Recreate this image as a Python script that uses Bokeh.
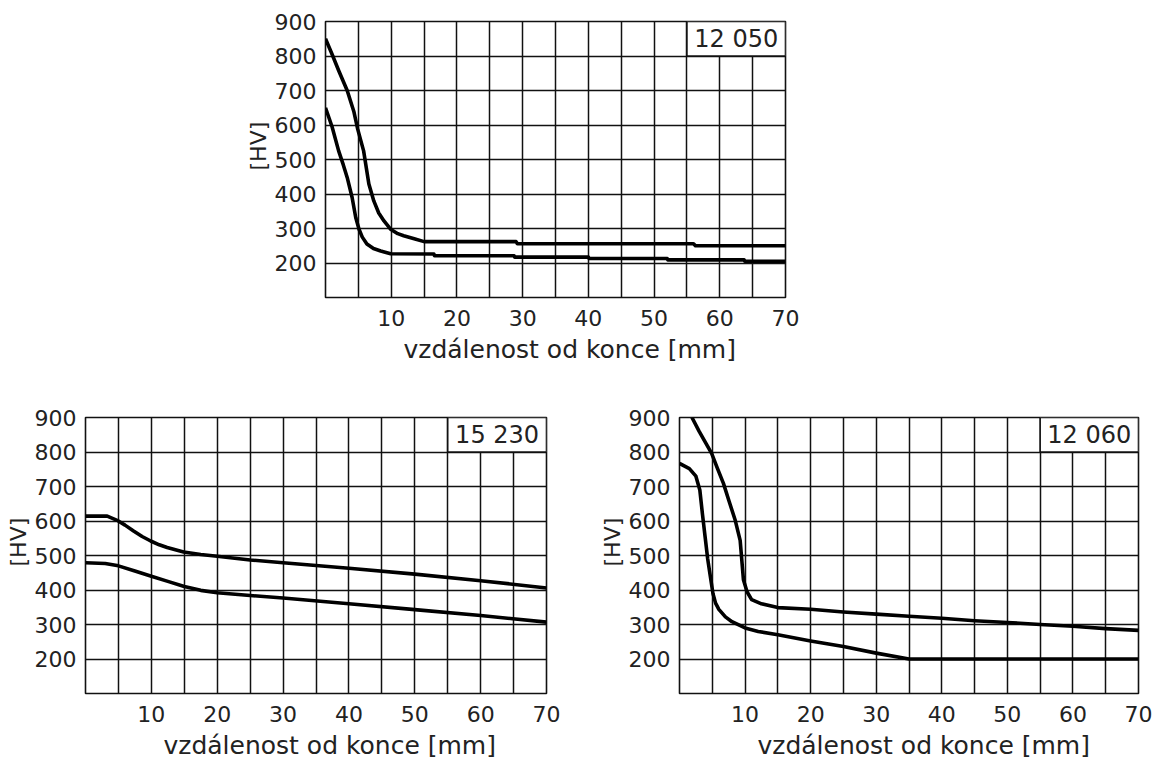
from bokeh.plotting import figure
from bokeh.models import Range1d, FixedTicker, Title
from bokeh.layouts import column, row
from bokeh.embed import file_html
from bokeh.resources import INLINE
from bokeh.core.properties import value

# ---- axes ----
X_TICKS = [10, 20, 30, 40, 50, 60, 70]
Y_TICKS = [200, 300, 400, 500, 600, 700, 800, 900]
X_GRID = [0, 5, 10, 15, 20, 25, 30, 35, 40, 45, 50, 55, 60, 65, 70]
Y_GRID = [100, 200, 300, 400, 500, 600, 700, 800, 900]
X_LABEL = "vzdálenost od konce [mm]"
Y_LABEL = "[HV]"
BOX_X = [55, 70]
BOX_Y = [800, 900]

# ---- chart 12 050 ----
a_upper_x = [0, 1, 2, 3.3, 4.3, 4.9, 5.8, 6.6, 7.35, 8.1, 8.9, 9.9, 11, 11.9, 13.5, 15, 29, 29.2, 56, 56.3, 70]
a_upper_y = [850, 805, 758, 700, 640, 588, 525, 429, 380, 345, 322, 298, 285, 279, 270, 262, 262, 256, 256, 250, 250]
a_lower_x = [0, 1, 2, 2.7, 3.3, 4.05, 4.6, 5.1, 5.6, 6.3, 7.3, 8.4, 9.9, 16.5, 16.6, 28.7, 28.8, 40, 40.1, 52, 52.1, 63.7, 63.8, 70]
a_lower_y = [650, 595, 525, 485, 448, 390, 332, 298, 275, 255, 242, 235, 227, 226, 221, 221, 217, 217, 213, 213, 209, 209, 205, 205]

# ---- chart 15 230 ----
b_upper_x = [0, 3.3, 4.8, 6, 7.3, 8.6, 9.9, 11.2, 12.4, 14.9, 17.5, 20, 25, 30, 40, 50, 60, 70]
b_upper_y = [614, 614, 602, 588, 571, 555, 542, 531, 523, 510, 503, 498, 487, 479, 463, 446, 427, 406]
b_lower_x = [0, 3, 5, 7.5, 10, 12.5, 15, 17.5, 20, 25, 30, 40, 50, 60, 70]
b_lower_y = [479, 477, 470, 455, 440, 425, 410, 399, 392, 384, 377, 360, 343, 326, 307]

# ---- chart 12 060 ----
c_upper_x = [1.9, 3, 4.9, 5.8, 6.7, 7.6, 8.5, 9.25, 9.75, 10.3, 11, 12.5, 15, 20, 25, 30, 35, 40, 45, 50, 55, 60, 65, 70]
c_upper_y = [900, 860, 796, 752, 709, 655, 602, 544, 430, 395, 372, 360, 349, 344, 336, 330, 324, 318, 311, 306, 300, 295, 288, 283]
c_lower_x = [0, 1.5, 2.5, 3.1, 3.5, 3.9, 4.3, 4.7, 5.1, 5.5, 6, 7, 8, 10, 12, 15, 20, 25, 30, 35, 70]
c_lower_y = [767, 752, 730, 690, 620, 555, 490, 440, 390, 362, 344, 322, 308, 290, 280, 270, 252, 236, 217, 200, 200]

FONT = "DejaVu Sans"
TXT = "#222222"
LINE = "#111111"


def make_chart(ux, uy, lx, ly, label, left, right, top, bottom, fw):
    p = figure(frame_width=fw, frame_height=276,
               x_range=Range1d(0, 70), y_range=Range1d(100, 900),
               output_backend="svg", toolbar_location=None,
               min_border_left=left, min_border_right=right,
               min_border_top=top, min_border_bottom=bottom)
    p.background_fill_color = "white"
    p.border_fill_color = "white"
    p.outline_line_color = LINE
    p.outline_line_width = 1.6
    p.xaxis.ticker = FixedTicker(ticks=X_TICKS)
    p.yaxis.ticker = FixedTicker(ticks=Y_TICKS)
    p.xgrid.ticker = FixedTicker(ticks=X_GRID)
    p.ygrid.ticker = FixedTicker(ticks=Y_GRID)
    for g in (p.xgrid, p.ygrid):
        g.grid_line_color = LINE
        g.grid_line_width = 1.5
        g.grid_line_alpha = 1.0
    for ax in (p.xaxis, p.yaxis):
        ax.axis_line_color = None
        ax.major_tick_line_color = None
        ax.minor_tick_line_color = None
        ax.major_label_text_font = FONT
        ax.major_label_text_font_size = "22px"
        ax.major_label_text_color = TXT
    p.xaxis.major_label_standoff = 6
    p.yaxis.major_label_standoff = 3

    p.line(ux, uy, line_width=3.6, color="black", line_join="round")
    p.line(lx, ly, line_width=3.6, color="black", line_join="round")

    p.quad(left=[BOX_X[0]], right=[BOX_X[1]], bottom=[BOX_Y[0]], top=[BOX_Y[1]],
           fill_color="white", line_color=LINE, line_width=1.6)
    p.text(x=[(BOX_X[0] + BOX_X[1]) / 2], y=[(BOX_Y[0] + BOX_Y[1]) / 2], text=[label],
           text_align="center", text_baseline="middle",
           text_font=value(FONT), text_font_size="24px", text_color=TXT)

    # axis titles
    p.add_layout(Title(text=X_LABEL, align="left", offset=78, standoff=9,
                       text_font=FONT, text_font_size="25px", text_font_style="normal",
                       text_color=TXT), "below")
    p.add_layout(Title(text=Y_LABEL, align="left", offset=127, standoff=2,
                       text_font=FONT, text_font_size="22px", text_font_style="normal",
                       text_color=TXT), "left")
    return p


p_top = make_chart(a_upper_x, a_upper_y, a_lower_x, a_lower_y, "12 050",
                   left=325, right=30, top=21, bottom=81, fw=460)
p_bl = make_chart(b_upper_x, b_upper_y, b_lower_x, b_lower_y, "15 230",
                  left=85, right=20, top=39, bottom=71, fw=461)
p_br = make_chart(c_upper_x, c_upper_y, c_lower_x, c_lower_y, "12 060",
                  left=113, right=25, top=36, bottom=74, fw=459)

layout = column(p_top, row(p_bl, p_br))
open("out.html", "w").write(file_html(layout, INLINE))
